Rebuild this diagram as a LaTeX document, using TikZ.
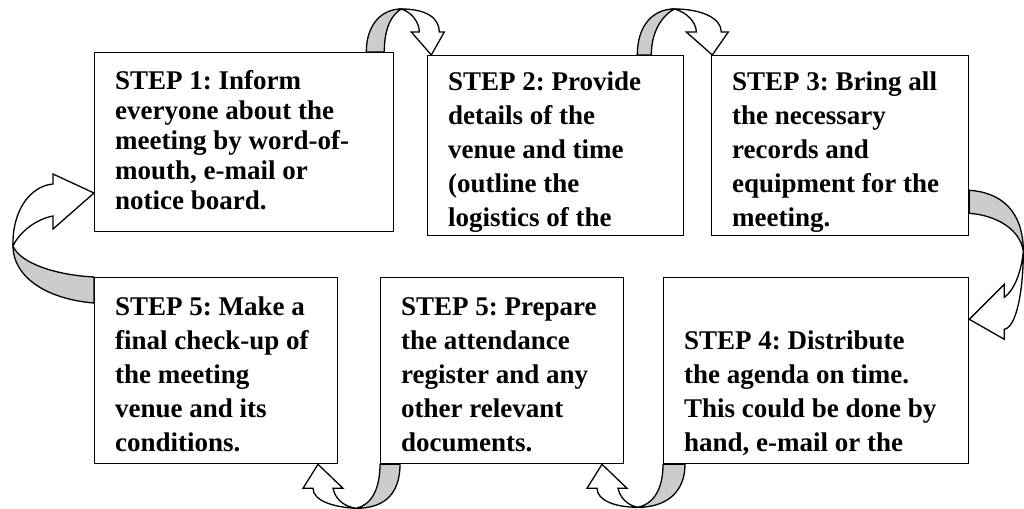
\documentclass[tikz,border=0pt]{standalone}
\usepackage{fontspec}
\setmainfont{Liberation Serif}
\usetikzlibrary{calc,positioning}
\definecolor{boxInk}{HTML}{000000}
\definecolor{bandGray}{HTML}{CCCCCC}
\newcommand{\stepfont}{\bfseries\frenchspacing\fontsize{27pt}{34pt}\selectfont}
\newcommand{\stepfonttight}{\bfseries\frenchspacing\fontsize{27pt}{30pt}\selectfont}
\tikzset{
 plan/.style={line join=miter},
 stepbox/.style={rectangle,draw=boxInk,fill=white,line width=1.3pt,anchor=north west,inner sep=0pt},
 steptext/.style={anchor=north west,inner sep=0pt,align=left,text=boxInk,font=\stepfont},
 bandback/.style={draw=boxInk,fill=bandGray,line width=1.3pt},
 bandfront/.style={draw=boxInk,fill=white,line width=1.3pt}
}

\begin{document}
\begin{tikzpicture}[plan,x=1pt,y=-1pt]
 \useasboundingbox (0,0) rectangle (1024,508);
 \node[stepbox,minimum width=299pt,minimum height=179pt] (s1) at (94,52) {};
 \node[stepbox,minimum width=256pt,minimum height=180pt] (s2) at (427,55) {};
 \node[stepbox,minimum width=257pt,minimum height=180pt] (s3) at (711,55) {};
 \node[stepbox,minimum width=305pt,minimum height=186pt] (s4) at (663,277) {};
 \node[stepbox,minimum width=243pt,minimum height=186pt] (s5) at (380,277) {};
 \node[stepbox,minimum width=243pt,minimum height=186pt] (s6) at (94,277) {};
 \node[steptext,font=\stepfonttight] (t1) at ($(s1.north west)+(21,18)$) {STEP 1: Inform\\everyone about the\\meeting by word-of-\\mouth, e-mail or\\notice board.};
 \node[steptext] (t2) at ($(s2.north west)+(21,17)$) {STEP 2: Provide\\details of the\\venue and time\\(outline the\\logistics of the};
 \node[steptext] (t3) at ($(s3.north west)+(21,17)$) {STEP 3: Bring all\\the necessary\\records and\\equipment for the\\meeting.};
 \node[steptext] (t4) at ($(s4.north west)+(21,54)$) {STEP 4: Distribute\\the agenda on time.\\This could be done by\\hand, e-mail or the};
 \node[steptext] (t5) at ($(s5.north west)+(21,20)$) {STEP 5: Prepare\\the attendance\\register and any\\other relevant\\documents.};
 \node[steptext] (t6) at ($(s6.north west)+(21,20)$) {STEP 5: Make a\\final check-up of\\the meeting\\venue and its\\conditions.};
 % step 1 to step 2
 \begin{scope}[shift={(s1.north east)}]
  \draw[bandback] (-28,0) .. controls (-28,-27) and (-13,-43) .. (7,-43) .. controls (-3,-37) and (-10,-24) .. (-10,0) -- cycle;
  \draw[bandfront] (7,-43) .. controls (32,-43) and (45,-34) .. (45,-20) -- (50,-20) -- (37,3) -- (17,-20) -- (25,-20) .. controls (25,-30) and (17,-40) .. (7,-43) -- cycle;
 \end{scope}
 % step 2 to step 3
 \begin{scope}[shift={(s2.north east)}]
  \draw[bandback] (-47,0) .. controls (-47,-30) and (-31,-46) .. (-10,-46) .. controls (-21,-40) and (-33,-25) .. (-33,0) -- cycle;
  \draw[bandfront] (-10,-46) .. controls (17,-46) and (37,-37) .. (37,-23) -- (44,-23) -- (28,0) -- (2,-23) -- (12,-23) .. controls (12,-33) and (2,-43) .. (-10,-46) -- cycle;
 \end{scope}
 % step 3 to step 4
 \begin{scope}[shift={(s3.south east)}]
  \draw[bandback] (0,-46) .. controls (32,-44) and (54,-25) .. (54,15) .. controls (51,-7) and (27,-21) .. (0,-23) -- cycle;
  \draw[bandfront] (54,15) .. controls (54,55) and (47,91) .. (35,93) -- (35,103) -- (0,83) -- (35,48) -- (35,61) .. controls (44,55) and (52,37) .. (54,15) -- cycle;
 \end{scope}
 % step 4 to step 5
 \begin{scope}[shift={(s4.south west)}]
  \draw[bandback] (0,0) -- (22,0) .. controls (22,29) and (2,43) .. (-25,43) .. controls (-11,40) and (0,27) .. (0,0) -- cycle;
  \draw[bandfront] (-25,43) .. controls (-48,43) and (-66,36) .. (-66,24) -- (-76,24) -- (-61,0) -- (-36,24) -- (-45,24) .. controls (-43,33) and (-36,41) .. (-25,43) -- cycle;
 \end{scope}
 % step 5 to step 5
 \begin{scope}[shift={(s5.south west)}]
  \draw[bandback] (0,0) -- (20,0) .. controls (20,29) and (5,44) .. (-24,44) .. controls (-10,41) and (0,27) .. (0,0) -- cycle;
  \draw[bandfront] (-24,44) .. controls (-45,43) and (-67,37) .. (-67,24) -- (-77,24) -- (-62,0) -- (-37,24) -- (-47,24) .. controls (-45,34) and (-37,42) .. (-24,44) -- cycle;
 \end{scope}
 % step 5 back to step 1
 \begin{scope}[shift={(s6.north west)}]
  \draw[bandback] (0,0) .. controls (-39,-2) and (-74,-14) .. (-81,-31) .. controls (-81,-1) and (-49,22) .. (0,26) -- cycle;
  \draw[bandfront] (-81,-31) .. controls (-82,-66) and (-64,-91) .. (-41,-93) -- (-41,-103) -- (0,-84) -- (-41,-48) -- (-41,-61) .. controls (-57,-58) and (-74,-46) .. (-81,-31) -- cycle;
 \end{scope}
\end{tikzpicture}
\end{document}
